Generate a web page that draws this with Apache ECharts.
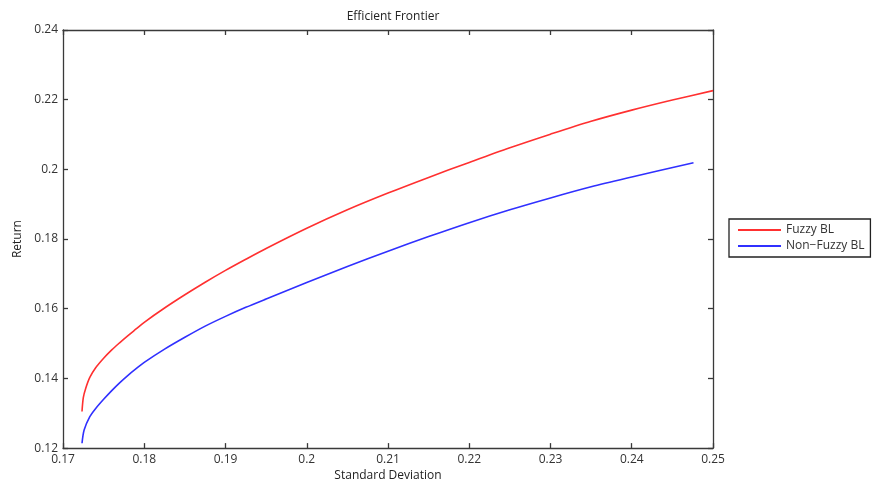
<!DOCTYPE html>
<html>
<head>
<meta charset="utf-8">
<script src="https://cdn.jsdelivr.net/npm/echarts@6/dist/echarts.min.js"></script>
<style>
html,body{margin:0;padding:0;background:#fff;}
#c{width:875px;height:487px;}
</style>
</head>
<body>
<div id="c"></div>
<script>
var seriesNames = ["Fuzzy BL", "Non\u2212Fuzzy BL"];
var fuzzyStd = [0.17234,0.1725,0.1728,0.1733,0.1740,0.1750,0.1760,0.1770,0.1780,0.1790,0.1800,0.1825,0.1850,0.1875,0.1900,0.1925,0.1950,0.2000,0.2050,0.2100,0.2150,0.2200,0.2250,0.2300,0.2350,0.2400,0.2450,0.2500];
var fuzzyRet = [0.1305,0.1345,0.1372,0.1403,0.1430,0.1458,0.1482,0.1503,0.1523,0.1542,0.1561,0.1602,0.1640,0.1676,0.1710,0.1742,0.1773,0.1831,0.1884,0.1932,0.1977,0.2020,0.2062,0.2101,0.2138,0.2170,0.2199,0.2226];
var nonFuzzyStd = [0.17234,0.1726,0.1733,0.1740,0.1750,0.1760,0.1770,0.1780,0.1790,0.1800,0.1825,0.1850,0.1875,0.1900,0.1925,0.1950,0.2000,0.2050,0.2100,0.2150,0.2200,0.2250,0.2300,0.2350,0.2400,0.2476];
var nonFuzzyRet = [0.1214,0.1252,0.1290,0.1313,0.1340,0.1365,0.1388,0.1409,0.1428,0.1446,0.1484,0.1518,0.1550,0.1578,0.1604,0.1628,0.1675,0.1721,0.1765,0.1807,0.1847,0.1884,0.1918,0.1950,0.1978,0.2019];
var xMin = 0.17, xMax = 0.25, xStep = 0.01;
var yMin = 0.12, yMax = 0.24, yStep = 0.02;

function pairs(xs, ys){ return xs.map(function(x,i){ return [x, ys[i]]; }); }
function fmt(v){ return String(parseFloat(v.toFixed(2))); }

var FONT = "'Open Sans', sans-serif";
var AX = '#3a3a3a';
function axisCommon(showLabel){
  return {
    axisLine:{show:true, onZero:false, lineStyle:{color:AX, width:1.3}},
    axisTick:{show:true, inside:true, length:5, lineStyle:{color:AX, width:1.3}},
    axisLabel:{show:showLabel, color:'#333', fontFamily:FONT, fontSize:12, formatter:fmt, margin:5},
    splitLine:{show:false}
  };
}
var chart = echarts.init(document.getElementById('c'));
var xb = axisCommon(true), xt = axisCommon(false), yl = axisCommon(true), yr = axisCommon(false);
chart.setOption({
  animation:false,
  backgroundColor:'#fff',
  title:{text:'Efficient Frontier', left:388, top:6, textAlign:'center',
    textStyle:{fontFamily:FONT, fontSize:12, fontWeight:'normal', color:'#222'}},
  grid:{left:63, right:162, top:30, bottom:38.5, containLabel:false},
  legend:{orient:'vertical', left:729, top:219, padding:[5,6,5,9], itemGap:4,
    itemWidth:43, itemHeight:2, icon:'rect', borderColor:'#222', borderWidth:1.3,
    backgroundColor:'#fff',
    textStyle:{fontFamily:FONT, fontSize:12, color:'#333', padding:[0,0,0,0]},
    data:seriesNames},
  xAxis:[
    Object.assign({type:'value', position:'bottom', min:xMin, max:xMax, interval:xStep,
      name:'Standard Deviation', nameLocation:'middle', nameGap:21,
      nameTextStyle:{fontFamily:FONT, fontSize:12, color:'#222'}}, xb),
    Object.assign({type:'value', position:'top', min:xMin, max:xMax, interval:xStep}, xt)
  ],
  yAxis:[
    Object.assign({type:'value', position:'left', min:yMin, max:yMax, interval:yStep,
      name:'Return', nameLocation:'middle', nameGap:38, nameRotate:90,
      nameTextStyle:{fontFamily:FONT, fontSize:12, color:'#222'}}, yl),
    Object.assign({type:'value', position:'right', min:yMin, max:yMax, interval:yStep}, yr)
  ],
  series:[
    {name:seriesNames[0], type:'line', xAxisIndex:0, yAxisIndex:0, data:pairs(fuzzyStd, fuzzyRet),
      showSymbol:false, symbol:'none', smooth:0.3,
      lineStyle:{color:'#ff3030', width:1.6}, itemStyle:{color:'#ff3030'}},
    {name:seriesNames[1], type:'line', xAxisIndex:0, yAxisIndex:0, data:pairs(nonFuzzyStd, nonFuzzyRet),
      showSymbol:false, symbol:'none', smooth:0.3,
      lineStyle:{color:'#3030ff', width:1.6}, itemStyle:{color:'#3030ff'}}
  ]
});
</script>
</body>
</html>
